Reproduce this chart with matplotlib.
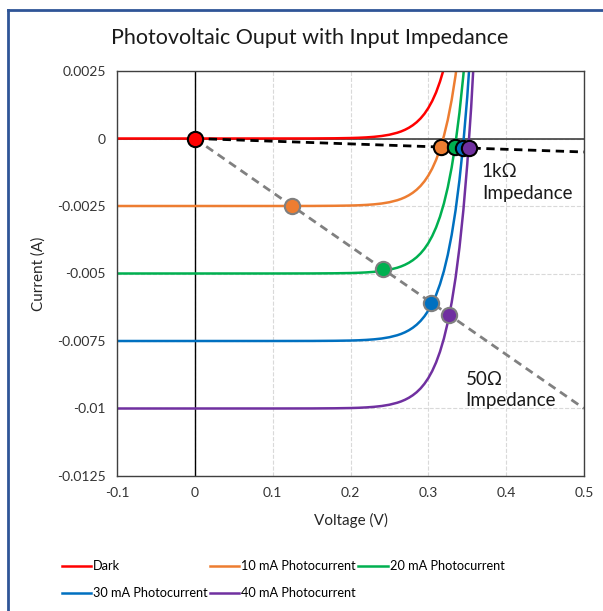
import matplotlib.pyplot as plt
from matplotlib.lines import Line2D

plt.rcParams['font.family'] = ['Lato', 'DejaVu Sans']

# Voltage points (V)
volts = [-0.1, 0.0, 0.1, 0.15, 0.18, 0.2, 0.21, 0.22, 0.23, 0.24, 0.25, 0.26,
         0.265, 0.27, 0.275, 0.28, 0.285, 0.29, 0.295, 0.3, 0.305, 0.31,
         0.315, 0.32, 0.325, 0.33, 0.335, 0.34, 0.345, 0.35, 0.355, 0.36]

# Currents (A) for each curve
dark = [0.0, 0.0, 0.0000003, 0.0000022, 0.0000076, 0.0000175, 0.0000265,
        0.0000402, 0.000061, 0.0000925, 0.00014, 0.000213, 0.000262,
        0.000323, 0.000398, 0.00049, 0.000603, 0.000743, 0.000915, 0.00113,
        0.00139, 0.00171, 0.00211, 0.00259, 0.00319, 0.00393, 0.00484,
        0.00596, 0.00734, 0.00904, 0.0111, 0.0137]
pc10 = [-0.0025, -0.0025, -0.0024997, -0.002498, -0.002492, -0.002483,
        -0.002474, -0.00246, -0.002439, -0.002408, -0.00236, -0.002287,
        -0.002238, -0.002177, -0.002102, -0.00201, -0.001897, -0.001757,
        -0.001585, -0.001373, -0.001112, -0.000791, -0.000395, 0.000092,
        0.000692, 0.00143, 0.00234, 0.00346, 0.00484, 0.00654, 0.0086, 0.0112]
pc20 = [-0.005, -0.005, -0.0049997, -0.004998, -0.004992, -0.004983,
        -0.004974, -0.00496, -0.004939, -0.004908, -0.00486, -0.004787,
        -0.004738, -0.004677, -0.004602, -0.00451, -0.004397, -0.004257,
        -0.004085, -0.003873, -0.003612, -0.003291, -0.002895, -0.002408,
        -0.001808, -0.00107, -0.00016, 0.00096, 0.00234, 0.00404, 0.0061,
        0.0087]
pc30 = [-0.0075, -0.0075, -0.0074997, -0.007498, -0.007492, -0.007483,
        -0.007474, -0.00746, -0.007439, -0.007408, -0.00736, -0.007287,
        -0.007238, -0.007177, -0.007102, -0.00701, -0.006897, -0.006757,
        -0.006585, -0.006373, -0.006112, -0.005791, -0.005395, -0.004908,
        -0.004308, -0.00357, -0.00266, -0.00154, -0.00016, 0.00154, 0.00364,
        0.0062]
pc40 = [-0.01, -0.01, -0.0099997, -0.009998, -0.009992, -0.009983,
        -0.009974, -0.00996, -0.009939, -0.009908, -0.00986, -0.009787,
        -0.009738, -0.009677, -0.009602, -0.00951, -0.009397, -0.009257,
        -0.009085, -0.008873, -0.008612, -0.008291, -0.007895, -0.007408,
        -0.006808, -0.00607, -0.00516, -0.00404, -0.00266, -0.00096, 0.00114,
        0.00373]

# load lines
load_v = [0.0, 0.5]
load_1k = [0.0, -0.0005]
load_50 = [0.0, -0.01]

# operating points
op1k_v = [0.316, 0.334, 0.344, 0.352]
op1k_i = [-0.0003, -0.00033, -0.00034, -0.00035]
op50_v = [0.125, 0.2416, 0.304, 0.327]
op50_i = [-0.0025, -0.00483, -0.00608, -0.00654]

names = ["Dark", "10 mA Photocurrent", "20 mA Photocurrent",
         "30 mA Photocurrent", "40 mA Photocurrent"]
colors = ["#FF0000", "#ED7D31", "#00B050", "#0070C0", "#7030A0"]

fig = plt.figure(figsize=(6.03, 6.11), dpi=100)
ax = fig.add_axes([117/603, 1-476/611, 467/603, 405/611])

ax.grid(True, color="#D9D9D9", linestyle="--", linewidth=0.8)
ax.set_axisbelow(True)
ax.axhline(0, color="#404040", linewidth=1.2, zorder=1)
ax.axvline(0, color="black", linewidth=1.0, zorder=1)

series = [dark, pc10, pc20, pc30, pc40]
handles = []
for s, c, n in zip(series, colors, names):
    h, = ax.plot(volts, s, color=c, linewidth=1.8, label=n, zorder=2)
    handles.append(h)

ax.plot(load_v, load_1k, color="black", linestyle=(0, (3, 2)), linewidth=2.0, zorder=3)
ax.plot(load_v, load_50, color="#808080", linestyle=(0, (3, 2)), linewidth=2.0, zorder=3)

ax.plot([0], [0], 'o', ms=11, mfc=colors[0], mec="black", mew=1.5, zorder=5)
for v, i, c in zip(op1k_v, op1k_i, colors[1:]):
    ax.plot([v], [i], 'o', ms=11, mfc=c, mec="black", mew=1.5, zorder=5)
for v, i, c in zip(op50_v, op50_i, colors[1:]):
    ax.plot([v], [i], 'o', ms=11, mfc=c, mec="#7F7F7F", mew=1.5, zorder=5)

ax.text(0.3688, -0.00163, "1kΩ\nImpedance", fontsize=13.5, va="center",
        linespacing=1.3, color="#1A1A1A")
ax.text(0.348, -0.00931, "50Ω\nImpedance", fontsize=13.5, va="center",
        linespacing=1.3, color="#1A1A1A")

ax.set_xlim(-0.1, 0.5)
ax.set_ylim(-0.0125, 0.0025)
ax.set_xticks([-0.1, 0, 0.1, 0.2, 0.3, 0.4, 0.5])
ax.set_xticklabels(["-0.1", "0", "0.1", "0.2", "0.3", "0.4", "0.5"])
ax.set_yticks([0.0025, 0, -0.0025, -0.005, -0.0075, -0.01, -0.0125])
ax.set_yticklabels(["0.0025", "0", "-0.0025", "-0.005", "-0.0075", "-0.01", "-0.0125"])
ax.tick_params(length=0, labelsize=10, colors="#333333", pad=8)
for sp in ax.spines.values():
    sp.set_color("#404040")
    sp.set_linewidth(1.0)

ax.set_xlabel("Voltage (V)", fontsize=11, color="#262626", labelpad=10)
ax.set_ylabel("Current (A)", fontsize=11, color="#262626", labelpad=8)
fig.text(310/603, 1-38/611, "Photovoltaic Ouput with Input Impedance",
         fontsize=15.5, ha="center", va="center", color="#1A1A1A")

order = [0, 3, 1, 4, 2]
fig.legend([handles[k] for k in order], [names[k] for k in order], ncol=3,
           loc="upper left", bbox_to_anchor=(50/603, 1-549/611), frameon=False,
           fontsize=9.2, handlelength=2.3, handletextpad=0.15, columnspacing=0.2,
           labelspacing=1.15, borderpad=0.4)

# blue frame of the chart area
fig.add_artist(Line2D([8/603, 8/603], [0, 1-10/611], color="#2F5597", linewidth=2.0))
fig.add_artist(Line2D([8/603, 1], [1-10/611, 1-10/611], color="#2F5597", linewidth=2.0))

fig.savefig("out.png", dpi=100)
